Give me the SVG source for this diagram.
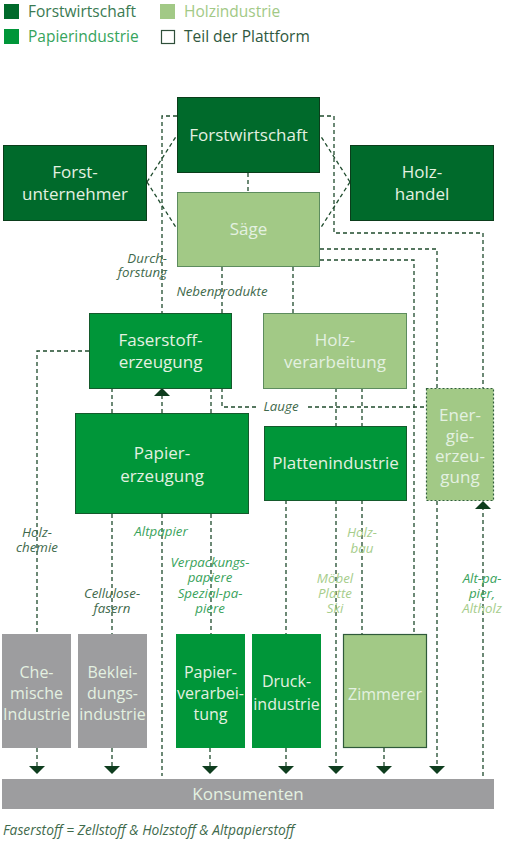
<svg xmlns="http://www.w3.org/2000/svg" width="505" height="842" viewBox="0 0 505 842">
<style>
text{font-family:"Open Sans","Noto Sans","Liberation Sans",sans-serif}
.nt{fill:#e4f1e1;font-size:17px;text-anchor:middle}
.nb{fill:#e4f1e1;font-size:16px;text-anchor:middle}
.dk{fill:#006a2b;stroke:#0b3d1b;stroke-width:1}
.gr{fill:#009639;stroke:#145a2c;stroke-width:1}
.lt{fill:#a2c986;stroke:#5d8c5e;stroke-width:1}
.gy{fill:#9d9d9f}
.dash{fill:none;stroke:#1f4b2d;stroke-width:1.3;stroke-dasharray:4,3}
.arr{fill:#0e3d1e}
.lb{font-size:13.3px;font-style:italic;text-anchor:middle}
.ld{fill:#3f6a4c}
.lg{fill:#3aa35c}
.ll{fill:#a6cd8b}
.leg{font-size:15.5px}
</style>
<defs>
<path id="ad" d="M-8,0 H8 L0,8 Z"/>
<path id="au" d="M-8,8 H8 L0,0 Z"/>
</defs>

<g id="legend">
<rect x="4" y="4" width="15" height="15" fill="#006a2b"/>
<text class="leg" x="28" y="17" fill="#3a7a52">Forstwirtschaft</text>
<rect x="160" y="4" width="15" height="15" fill="#a2c986"/>
<text class="leg" x="184" y="17" fill="#a2c986">Holzindustrie</text>
<rect x="4" y="29" width="15" height="15" fill="#009639"/>
<text class="leg" x="28" y="42" fill="#36a45c">Papierindustrie</text>
<rect x="161.5" y="30.5" width="13" height="13" fill="#fff" stroke="#2f4f3a" stroke-width="1.2"/>
<text class="leg" x="184" y="42" fill="#2f5840">Teil der Plattform</text>
</g>

<g id="connectors">
<path class="dash" d="M177,116 H162 V313"/>
<path class="dash" d="M320,116 H334 V233 H483 V388"/>
<path class="dash" d="M147,182 L177,135 M147,182 L177,229"/>
<path class="dash" d="M350,182 L320,135 M350,182 L320,229"/>
<path class="dash" d="M248,173 V192"/>
<path class="dash" d="M320,249 H437 V388"/>
<path class="dash" d="M320,260 H414 V634"/>
<path class="dash" d="M222,267 V313"/>
<path class="dash" d="M293,267 V313"/>
<path class="dash" d="M89,351 H37 V634"/>
<path class="dash" d="M222,388 V407 H426"/>
<path class="dash" d="M112,388 V413 M211,388 V413"/>
<path class="dash" d="M162,413 V396"/>
<use href="#au" class="arr" x="162" y="388"/>
<path class="dash" d="M336,388 V426 M362,388 V426"/>
<path class="dash" d="M112,514 V634"/>
<path class="dash" d="M162,514 V776"/>
<path class="dash" d="M211,514 V634"/>
<path class="dash" d="M286,500 V634"/>
<path class="dash" d="M336,500 V766"/>
<path class="dash" d="M362,500 V634"/>
<path class="dash" d="M437,501 V766"/>
<path class="dash" d="M483,776 V509"/>
<use href="#au" class="arr" x="483" y="501"/>
<path class="dash" d="M37,748 V766 M112,748 V766 M210,748 V766 M286,748 V766 M384,748 V766"/>
<use href="#ad" class="arr" x="37" y="766"/>
<use href="#ad" class="arr" x="112" y="766"/>
<use href="#ad" class="arr" x="210" y="766"/>
<use href="#ad" class="arr" x="286" y="766"/>
<use href="#ad" class="arr" x="336" y="766"/>
<use href="#ad" class="arr" x="384" y="766"/>
<use href="#ad" class="arr" x="437" y="766"/>
<rect x="257" y="399" width="48" height="16" fill="#fff"/>
<text class="lb ld" x="281" y="411">Lauge</text>
<text class="lb ld" style="text-anchor:end"><tspan x="167" y="263">Durch-</tspan><tspan x="167" y="277">forstung</tspan></text>
<text class="lb ld" x="222" y="296">Nebenprodukte</text>
<text class="lb ld"><tspan x="37" y="537">Holz-</tspan><tspan x="37" y="552">chemie</tspan></text>
<text class="lb lg" x="161" y="536">Altpapier</text>
<text class="lb ld"><tspan x="112" y="598">Cellulose-</tspan><tspan x="112" y="613">fasern</tspan></text>
<text class="lb lg"><tspan x="210" y="567">Verpackungs-</tspan><tspan x="210" y="582">papiere</tspan><tspan x="210" y="598">Spezial-pa-</tspan><tspan x="210" y="613">piere</tspan></text>
<text class="lb ll"><tspan x="362" y="537">Holz-</tspan><tspan x="362" y="553">bau</tspan></text>
<text class="lb ll"><tspan x="335" y="583">Möbel</tspan><tspan x="335" y="598">Platte</tspan><tspan x="335" y="613">Ski</tspan></text>
<text class="lb"><tspan class="lg" x="482" y="583">Alt-pa-</tspan><tspan class="lg" x="482" y="598">pier,</tspan><tspan class="ll" x="482" y="613">Altholz</tspan></text>
</g>

<g id="forstwirtschaft">
<rect class="dk" x="177.5" y="97.5" width="142" height="75"/>
<text class="nt" x="248.5" y="141">Forstwirtschaft</text>
</g>
<g id="forstunternehmer">
<rect class="dk" x="3.5" y="145.5" width="143" height="75"/>
<text class="nt"><tspan x="75" y="178">Forst-</tspan><tspan x="75" y="200">unternehmer</tspan></text>
</g>
<g id="holzhandel">
<rect class="dk" x="350.5" y="145.5" width="143" height="75"/>
<text class="nt"><tspan x="422" y="178">Holz-</tspan><tspan x="422" y="200">handel</tspan></text>
</g>
<g id="saege">
<rect class="lt" x="177.5" y="192.5" width="142" height="74"/>
<text class="nt" x="248.5" y="235">Säge</text>
</g>
<g id="faserstoff">
<rect class="gr" x="89.5" y="313.5" width="142" height="75"/>
<text class="nt"><tspan x="160.5" y="346">Faserstoff-</tspan><tspan x="160.5" y="368">erzeugung</tspan></text>
</g>
<g id="holzverarbeitung">
<rect class="lt" x="263.5" y="313.5" width="143" height="75"/>
<text class="nt"><tspan x="335" y="346">Holz-</tspan><tspan x="335" y="368">verarbeitung</tspan></text>
</g>
<g id="papiererzeugung">
<rect class="gr" x="75.5" y="413.5" width="173" height="100"/>
<text class="nt"><tspan x="162" y="459">Papier-</tspan><tspan x="162" y="482">erzeugung</tspan></text>
</g>
<g id="plattenindustrie">
<rect class="gr" x="264.5" y="426.5" width="142" height="74"/>
<text class="nt" x="335.5" y="469">Plattenindustrie</text>
</g>
<g id="energieerzeugung">
<rect x="426.5" y="388.5" width="67" height="112" fill="#a2c986" stroke="#2f5f3a" stroke-width="1.2" stroke-dasharray="2,2"/>
<text class="nt"><tspan x="460" y="421">Ener-</tspan><tspan x="460" y="442">gie-</tspan><tspan x="460" y="462">erzeu-</tspan><tspan x="460" y="483">gung</tspan></text>
</g>
<g id="chemische">
<rect class="gy" x="2" y="634" width="69" height="114"/>
<text class="nb"><tspan x="36.5" y="678">Che-</tspan><tspan x="36.5" y="699">mische</tspan><tspan x="36.5" y="720">Industrie</tspan></text>
</g>
<g id="bekleidung">
<rect class="gy" x="78" y="634" width="69" height="114"/>
<text class="nb"><tspan x="112.5" y="678">Beklei-</tspan><tspan x="112.5" y="699">dungs-</tspan><tspan x="112.5" y="720">industrie</tspan></text>
</g>
<g id="papierverarbeitung">
<rect x="176" y="634" width="69" height="114" fill="#009639"/>
<text class="nb"><tspan x="210.5" y="678">Papier-</tspan><tspan x="210.5" y="699">verarbei-</tspan><tspan x="210.5" y="720">tung</tspan></text>
</g>
<g id="druckindustrie">
<rect x="252" y="634" width="69" height="114" fill="#009639"/>
<text class="nb"><tspan x="286.5" y="687">Druck-</tspan><tspan x="286.5" y="710">industrie</tspan></text>
</g>
<g id="zimmerer">
<rect x="343.5" y="634.5" width="83" height="113" fill="#a2c986" stroke="#2f5a3a" stroke-width="1.2"/>
<text class="nb" x="385" y="700">Zimmerer</text>
</g>
<g id="konsumenten">
<rect class="gy" x="2" y="779" width="492" height="30"/>
<text class="nt" x="248" y="800">Konsumenten</text>
</g>
<text x="3" y="835" font-size="13.8" font-style="italic" fill="#3f6a4c">Faserstoff = Zellstoff &amp; Holzstoff &amp; Altpapierstoff</text>
</svg>
